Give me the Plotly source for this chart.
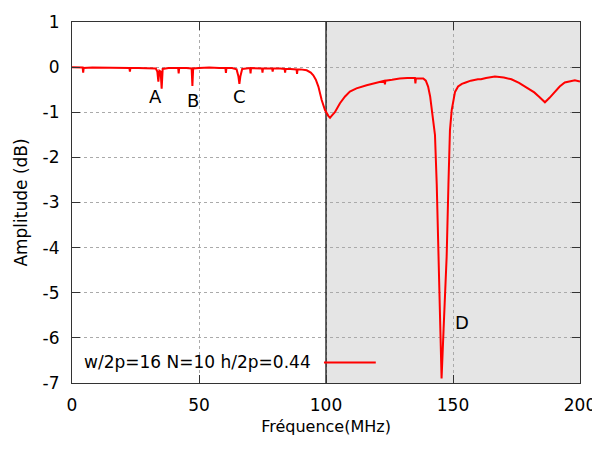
import plotly.graph_objects as go

# Frequency (MHz) and amplitude (dB)
freq = [
    0, 2, 4.2, 4.4, 4.6, 8, 12, 16, 20, 22.6, 22.8, 23.0, 26, 30,
    33.0, 33.6, 34.0, 34.4, 34.9, 35.3, 35.7, 38,
    41.8, 42.0, 42.2, 45, 47.1, 47.4, 47.7, 50, 54, 58, 60.4, 60.6, 60.8, 63,
    64.8, 65.5, 65.9, 66.3, 67, 70.1, 70.3, 70.5, 73, 74.8, 75.0, 75.2, 77,
    78.8, 79.0, 79.2, 82, 83.7, 83.9, 84.1, 86, 88.4, 88.6, 88.8, 90,
    92.4, 94, 95, 96, 97, 98.3, 99.6, 100.9, 101.6, 102.2, 103.5, 105.5,
    107.5, 109.4, 112, 116, 119, 122.5, 123.0, 123.2, 123.4, 126, 129, 132,
    135, 135.2, 135.4, 137, 138.3, 139.3, 140.2, 141, 141.6, 142.9, 143.6,
    144.2, 144.9, 145.5, 146.3, 147.5, 148.2, 148.8, 149.5, 150.2, 150.8,
    152, 153.5, 155, 157, 159.8, 161, 163, 166.5, 170, 173, 176, 179.6,
    182, 184, 186.2, 188, 190, 192, 194, 196, 198, 200,
]
amp = [
    0.0, -0.01, -0.01, -0.12, -0.02, -0.01, -0.01, -0.02, -0.01, -0.02, -0.10, -0.02, -0.02, -0.02,
    -0.03, -0.10, -0.32, -0.08, -0.10, -0.48, -0.04, -0.02,
    -0.02, -0.14, -0.02, -0.02, -0.03, -0.42, -0.03, -0.02, -0.01, -0.02, -0.02, -0.13, -0.02, -0.02,
    -0.05, -0.20, -0.37, -0.20, -0.04, -0.02, -0.14, -0.02, -0.02, -0.03, -0.12, -0.03, -0.03,
    -0.03, -0.10, -0.03, -0.03, -0.04, -0.12, -0.04, -0.04, -0.05, -0.15, -0.05, -0.05,
    -0.07, -0.12, -0.18, -0.28, -0.43, -0.73, -0.95, -1.08, -1.12, -1.08, -1.00, -0.80,
    -0.65, -0.54, -0.47, -0.40, -0.35, -0.30, -0.30, -0.38, -0.30, -0.28, -0.25, -0.24,
    -0.24, -0.36, -0.25, -0.25, -0.25, -0.30, -0.43, -0.65, -0.95, -1.50, -2.60,
    -4.20, -5.80, -6.90, -5.80, -4.20, -2.60, -1.40, -0.95, -0.70, -0.55,
    -0.43, -0.37, -0.34, -0.30, -0.27, -0.27, -0.24, -0.21, -0.23, -0.27, -0.35, -0.47,
    -0.56, -0.66, -0.78, -0.68, -0.55, -0.43, -0.34, -0.31, -0.29, -0.32,
]

x_ticks = [0, 50, 100, 150, 200]
y_ticks = [1, 0, -1, -2, -3, -4, -5, -6, -7]

peak_labels = ["A", "B", "C", "D"]
peak_x = [32.7, 47.6, 66.1, 153.5]
peak_y = [-0.66, -0.73, -0.66, -5.67]

legend_text = "w/2p=16 N=10 h/2p=0.44"

FONT = "DejaVu Sans"

fig = go.Figure()
fig.add_trace(go.Scatter(
    x=freq, y=amp, mode="lines",
    line=dict(color="#ff0000", width=2),
    name=legend_text, showlegend=False,
))

# Shaded region 100-200 MHz
fig.add_shape(type="rect", xref="x", yref="y", x0=100, x1=200, y0=-7, y1=1,
              fillcolor="#e5e5e5", line=dict(width=0), layer="below")
# Solid separator at 100 MHz
fig.add_shape(type="line", xref="x", yref="y", x0=100, x1=100, y0=-7, y1=1,
              line=dict(color="#000000", width=1.2), layer="between")

for t, xv, yv in zip(peak_labels, peak_x, peak_y):
    fig.add_annotation(x=xv, y=yv, text=t, showarrow=False,
                       font=dict(family=FONT, size=18, color="#000000"))

# Legend (text left of the key line, gnuplot style)
fig.add_annotation(xref="paper", yref="paper", x=0.474, y=0.059, text=legend_text,
                   xanchor="right", yanchor="middle", showarrow=False,
                   font=dict(family=FONT, size=17, color="#000000"))
fig.add_shape(type="line", xref="paper", yref="paper", x0=0.496, x1=0.598,
              y0=0.057, y1=0.057, line=dict(color="#ff0000", width=2))

axis_common = dict(
    showline=True, linecolor="#333333", linewidth=1.2, mirror="ticks",
    ticks="inside", ticklen=8, tickcolor="#333333", tickwidth=1.2,
    showgrid=True, gridcolor="#aaaaaa", griddash="dot", gridwidth=1,
    zeroline=False, tickfont=dict(family=FONT, size=17, color="#000000"),
    automargin=False, ticklabeloverflow="allow",
)

fig.update_xaxes(range=[0, 200], tickvals=x_ticks, ticktext=[str(v) for v in x_ticks],
                 title=dict(text="Fréquence(MHz)", font=dict(family=FONT, size=16, color="#000000"),
                            standoff=10),
                 ticklabelstandoff=6, **axis_common)
fig.update_yaxes(range=[-7, 1], tickvals=y_ticks, ticktext=[str(v) for v in y_ticks],
                 title=dict(text="Amplitude (dB)", font=dict(family=FONT, size=17, color="#000000"),
                            standoff=10),
                 ticklabelstandoff=8, **axis_common)

# The page body adds an 8px offset, so the figure is sized to fit the 600x450 window.
fig.update_layout(
    width=592, height=428,
    margin=dict(l=64, r=20, t=14, b=53),
    plot_bgcolor="#ffffff", paper_bgcolor="#ffffff",
    font=dict(family=FONT, size=17, color="#000000"),
)

fig.write_html("out.html")
